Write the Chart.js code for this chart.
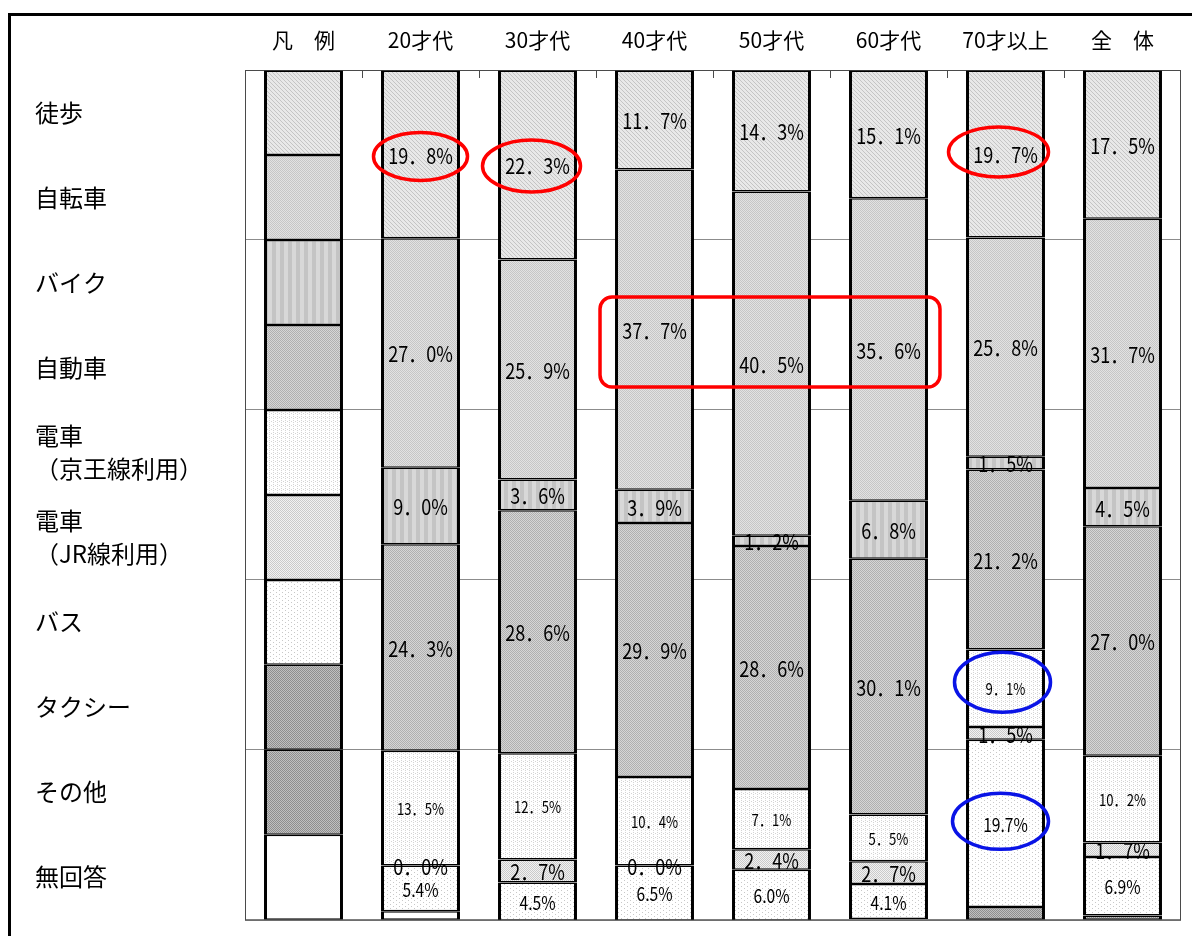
<!DOCTYPE html>
<html lang="ja">
<head>
<meta charset="utf-8">
<title>年代別 通勤・通学の交通手段</title>
<script src="https://cdn.jsdelivr.net/npm/chart.js@4.4.1/dist/chart.umd.min.js"></script>
<style>
  html, body { margin: 0; padding: 0; background: #fff; }
  #chart { display: block; }
</style>
</head>
<body>
<canvas id="chart" width="1192" height="936"></canvas>
<script>
const categories = ["凡　例", "20才代", "30才代", "40才代", "50才代", "60才代", "70才以上", "全　体"];
const modeLabels = ["徒歩", "自転車", "バイク", "自動車", ["電車", "（京王線利用）"], ["電車", "（JR線利用）"], "バス", "タクシー", "その他", "無回答"];

// first column is the legend: ten equal blocks, one per mode
const walk      = [10, 19.8, 22.3, 11.7, 14.3, 15.1, 19.7, 17.5];
const bicycle   = [10, 27.0, 25.9, 37.7, 40.5, 35.6, 25.8, 31.7];
const motorbike = [10,  9.0,  3.6,  3.9,  1.2,  6.8,  1.5,  4.5];
const car       = [10, 24.3, 28.6, 29.9, 28.6, 30.1, 21.2, 27.0];
const trainKeio = [10, 13.5, 12.5, 10.4,  7.1,  5.5,  9.1, 10.2];
const trainJR   = [10,  0.0,  2.7,  0.0,  2.4,  2.7,  1.5,  1.7];
const bus       = [10,  5.4,  4.5,  6.5,  6.0,  4.1, 19.7,  6.9];
const taxi      = [10,  0.0,  0.0,  0.0,  0.0,  0.0,  1.5,  0.5];
const other     = [10,  0.0,  0.0,  0.0,  0.0,  0.0,  0.0,  0.0];
const noAnswer  = [10,  1.0,  0.0,  0.0,  0.0,  0.0,  0.0,  0.0];

const seriesValues = [walk, bicycle, motorbike, car, trainKeio, trainJR, bus, taxi, other, noAnswer];

const FONT = "'Noto Sans CJK JP', sans-serif";
const canvas = document.getElementById("chart");
const ctx = canvas.getContext("2d");

// small tiled canvases to imitate the printed hatch fills
function makePattern(w, h, bg, fg, dots) {
  const c = document.createElement("canvas");
  c.width = w;
  c.height = h;
  const g = c.getContext("2d");
  g.fillStyle = bg;
  g.fillRect(0, 0, w, h);
  g.fillStyle = fg;
  dots.forEach(([x, y]) => g.fillRect(x, y, 1, 1));
  return ctx.createPattern(c, "repeat");
}

const checker = [[0, 0], [2, 0], [1, 1], [3, 1], [0, 2], [2, 2], [1, 3], [3, 3]];
const diagonal = [[0, 0], [1, 1], [2, 2], [3, 3]];
const stripes = [];
for (let y = 0; y < 2; y++) for (let x = 0; x < 4; x++) stripes.push([x, y]);

const fills = [
  makePattern(4, 4, "#e8e8e8", "#c4c4c4", diagonal),
  makePattern(4, 4, "#e2e2e2", "#c6c6c6", checker),
  makePattern(8, 2, "#d8d8d8", "#c4c4c4", stripes),
  makePattern(4, 4, "#d6d6d6", "#b0b0b0", checker),
  makePattern(4, 4, "#ffffff", "#d4d4d4", [[1, 0], [1, 2], [3, 1]]),
  makePattern(4, 4, "#f2f2f2", "#cacaca", checker),
  makePattern(6, 4, "#ffffff", "#c8c8c8", [[0, 0], [3, 2]]),
  makePattern(4, 4, "#c0c0c0", "#8e8e8e", checker),
  makePattern(4, 4, "#c0c0c0", "#8e8e8e", checker),
  "#ffffff",
];

// how each series prints its numbers (null: no numbers)
const labelStyle = [
  { size: 22, wide: true },
  { size: 22, wide: true },
  { size: 22, wide: true },
  { size: 22, wide: true },
  { size: 16, wide: true },
  { size: 22, wide: true },
  { size: 19, wide: false },
  null,
  null,
  null,
];

function formatValue(v, wide) {
  const s = v.toFixed(1);
  return (wide ? s.replace(".", "．") : s) + "%";
}

const valueLabels = {
  id: "valueLabels",
  afterDatasetsDraw(chart) {
    const g = chart.ctx;
    g.save();
    g.fillStyle = "#000";
    g.textAlign = "center";
    g.textBaseline = "middle";
    chart.data.datasets.forEach((ds, d) => {
      const style = labelStyle[d];
      if (!style) return;
      chart.getDatasetMeta(d).data.forEach((bar, i) => {
        if (i === 0) return; // legend column has no numbers
        const y = (bar.y + bar.base) / 2;
        g.save();
        g.translate(bar.x, y);
        g.scale(0.82, 1);
        g.font = `${style.size}px ${FONT}`;
        g.fillText(formatValue(ds.data[i], style.wide), 0, 1);
        g.restore();
      });
    });
    g.restore();
  },
};

// frame, plot border and the short column ticks along the top
const plotFrame = {
  id: "plotFrame",
  beforeDraw(chart) {
    const g = chart.ctx;
    g.save();
    g.strokeStyle = "#000";
    g.lineWidth = 3;
    g.strokeRect(9.5, 14.5, chart.width + 20, chart.height + 20);
    g.restore();
  },
  beforeDatasetsDraw(chart) {
    const { ctx: g, chartArea: a } = chart;
    const xs = chart.scales.x;
    g.save();
    g.strokeStyle = "#4a4a4a";
    g.lineWidth = 1;
    g.strokeRect(a.left + 0.5, a.top + 0.5, a.width - 1, a.height);
    g.beginPath();
    for (let i = 0; i < categories.length - 1; i++) {
      const x = Math.round((xs.getPixelForValue(i) + xs.getPixelForValue(i + 1)) / 2) + 0.5;
      g.moveTo(x, a.top);
      g.lineTo(x, a.top + 8);
    }
    g.stroke();
    g.restore();
  },
};

// hand-drawn highlight marks over some of the numbers
const circled = [
  { series: 0, col: 1, rx: 47, ry: 24, dx: 0, dy: 2, color: "#ff0000" },
  { series: 0, col: 2, rx: 49, ry: 26, dx: -6, dy: 1, color: "#ff0000" },
  { series: 0, col: 6, rx: 50, ry: 25, dx: -7, dy: -2, color: "#ff0000" },
  { series: 4, col: 6, rx: 48, ry: 30, dx: -3, dy: -6, color: "#0a14e6" },
  { series: 6, col: 6, rx: 48, ry: 28, dx: -5, dy: -2, color: "#0a14e6" },
];
const boxed = { series: 1, from: 3, to: 5, top: 26.7, bottom: 37.3, color: "#ff0000" };

const highlights = {
  id: "highlights",
  afterDraw(chart) {
    const g = chart.ctx;
    const ys = chart.scales.y;
    g.save();
    g.lineWidth = 3.5;
    circled.forEach((m) => {
      const bar = chart.getDatasetMeta(m.series).data[m.col];
      const cx = bar.x + m.dx;
      const cy = (bar.y + bar.base) / 2 + m.dy;
      g.strokeStyle = m.color;
      g.beginPath();
      g.ellipse(cx, cy, m.rx, m.ry, 0, 0, Math.PI * 2);
      g.stroke();
    });
    const first = chart.getDatasetMeta(boxed.series).data[boxed.from];
    const last = chart.getDatasetMeta(boxed.series).data[boxed.to];
    const left = first.x - first.width / 2 - 15;
    const right = last.x + last.width / 2 + 12;
    const top = ys.getPixelForValue(boxed.top);
    const bottom = ys.getPixelForValue(boxed.bottom);
    g.strokeStyle = boxed.color;
    g.beginPath();
    g.roundRect(left, top, right - left, bottom - top, 12);
    g.stroke();
    g.restore();
  },
};

Chart.defaults.font.family = FONT;
Chart.defaults.color = "#000";

new Chart(ctx, {
  type: "bar",
  data: {
    labels: categories,
    datasets: seriesValues.map((values, d) => ({
      label: Array.isArray(modeLabels[d]) ? modeLabels[d].join("") : modeLabels[d],
      data: values,
      backgroundColor: fills[d],
      borderColor: "#000",
      borderWidth: { top: 1.5, bottom: 1.5, left: 3, right: 3 },
      borderSkipped: false,
      barPercentage: 0.675,
      categoryPercentage: 1,
      yAxisID: "y",
    })),
  },
  options: {
    responsive: false,
    devicePixelRatio: 1,
    animation: false,
    layout: { padding: { left: 35, right: 11, top: 0, bottom: 15 } },
    plugins: {
      legend: { display: false },
      tooltip: { enabled: false },
    },
    scales: {
      x: {
        position: "top",
        stacked: true,
        offset: true,
        grid: { display: false, drawTicks: false },
        border: { display: false },
        ticks: { font: { size: 21 }, padding: 17, color: "#000" },
        afterFit(scale) {
          scale.height = 70;
        },
      },
      y: {
        position: "left",
        stacked: true,
        reverse: true,
        min: 0,
        max: 100,
        weight: 0,
        ticks: { display: false, stepSize: 20 },
        grid: { color: "#8c8c8c", drawTicks: false },
        border: { display: false },
      },
      modes: {
        position: "left",
        reverse: true,
        min: 0,
        max: 100,
        weight: 1,
        grid: { display: false, drawTicks: false },
        border: { display: false },
        afterBuildTicks(scale) {
          scale.ticks = modeLabels.map((_, i) => ({ value: i * 10 + 5 }));
        },
        ticks: {
          crossAlign: "far",
          padding: 0,
          color: "#000",
          font: { size: 24, lineHeight: 1.35 },
          callback: (value, index) => modeLabels[index],
        },
        afterFit(scale) {
          scale.width = 210;
        },
      },
    },
  },
  plugins: [plotFrame, valueLabels, highlights],
});
</script>
</body>
</html>
